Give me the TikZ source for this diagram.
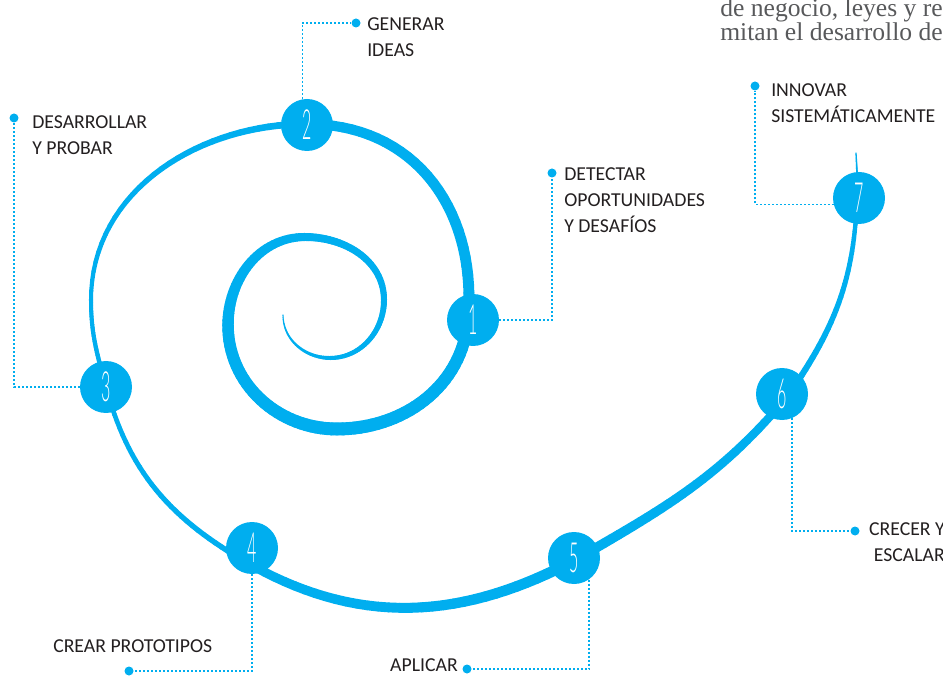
\documentclass[tikz,border=0pt]{standalone}
\usepackage{fontspec}
\usepackage{graphicx}
\setmainfont{Carlito}
\newfontfamily\notefont{Liberation Serif}
\newfontfamily\stagefont{Lato Light}
\usetikzlibrary{calc, decorations.markings}

\definecolor{spiralblue}{HTML}{00AEEF}
\definecolor{labelgray}{HTML}{231F20}
\definecolor{notegray}{HTML}{58595B}

\tikzset{
  stage/.style={circle, fill=spiralblue, minimum size=39pt, inner sep=0pt,
    text=white, font=\stagefont\fontsize{24}{24}\selectfont},
  pin/.style={circle, fill=spiralblue, minimum size=6.75pt, inner sep=0pt},
  lead/.style={spiralblue, line width=1pt, dash pattern=on 1.5pt off 1.5pt},
  tag/.style={inner sep=0pt, text=labelgray, align=left,
    font=\fontsize{14.8}{19.5}\selectfont},
}

% thin tall digits in the circles
\newcommand{\stagenum}[1]{\scalebox{0.5}[1.3]{#1}}

% one piece of the spiral, width going from #5 to #6 (px)
\newcommand{\spiralpiece}[6]{%
  \path[decorate, decoration={markings,
      mark=between positions 0 and 1 step 0.03125 with
      {\coordinate (q\pgfkeysvalueof{/pgf/decoration/mark info/sequence number});}}]
    (#1) to[out=#3, in=#4] (#2);
  \coordinate (q33) at (#2);
  \foreach \i [evaluate=\i as \j using int(\i+1),
               evaluate=\i as \w using #5+(#6-#5)*(\i-0.5)/32] in {1,...,32}
    \draw[spiralblue, line width=\w*0.75pt, line cap=round] (q\i) -- (q\j);
}

\begin{document}
\begin{tikzpicture}[x=0.75pt, y=0.75pt]
	\useasboundingbox (0,0) rectangle (943,-677);

	% text of the page behind
	\node[anchor=base west, inner sep=0pt, text=notegray, font=\notefont\fontsize{19.2}{24}\selectfont]
		(note1) at (720,-17) {de negocio, leyes y reg};
	\node[anchor=base west, inner sep=0pt, text=notegray, font=\notefont\fontsize{19.2}{24}\selectfont]
		(note2) at (720,-41) {mitan el desarrollo de};

	% points of the spiral
	\coordinate (t0) at (283,-315);
	\coordinate (t1) at (330,-358);
	\coordinate (t2) at (384,-300);
	\coordinate (t3) at (305,-237);
	\coordinate (t4) at (228,-325);
	\coordinate (t5) at (337,-429);
	\coordinate (k1) at (468,-320);
	\coordinate (k2) at (307,-124);
	\coordinate (kl) at (91,-300);
	\coordinate (k3) at (106,-387);
	\coordinate (k4) at (246,-562);
	\coordinate (k5) at (575,-560);
	\coordinate (k6) at (787,-397);
	\coordinate (k7) at (857,-198);
	\coordinate (te) at (856,-153);

	% spiral
	\spiralpiece{t0}{t1}{270}{180}{1}{4}
	\spiralpiece{t1}{t2}{0}{270}{4}{6}
	\spiralpiece{t2}{t3}{90}{0}{6}{8}
	\spiralpiece{t3}{t4}{180}{90}{8}{11.5}
	\spiralpiece{t4}{t5}{270}{180}{11.5}{13}
	\spiralpiece{t5}{k1}{0}{265}{13}{12}
	\spiralpiece{k1}{k2}{85, looseness=1.1}{0}{11}{10}
	\spiralpiece{k2}{kl}{180}{90}{7}{4}
	\spiralpiece{kl}{k3}{270}{105}{4}{4.5}
	\spiralpiece{k3}{k4}{285}{150}{4.5}{5.5}
	\spiralpiece{k4}{k5}{330}{208}{9}{11}
	\spiralpiece{k5}{k6}{30}{230}{10}{8}
	\spiralpiece{k6}{k7}{55}{268}{6.5}{4}
	\spiralpiece{k7}{te}{88}{273}{2.5}{1.2}

	% stages
	\node[stage] (c1) at (473,-320) {\stagenum{1}};
	\node[stage] (c2) at (307,-125) {\stagenum{2}};
	\node[stage] (c3) at (106,-387) {\stagenum{3}};
	\node[stage] (c4) at (252,-548) {\stagenum{4}};
	\node[stage] (c5) at (574,-558) {\stagenum{5}};
	\node[stage] (c6) at (782,-394) {\stagenum{6}};
	\node[stage] (c7) at (859,-198) {\stagenum{7}};

	% dots at the labels
	\node[pin] (d1) at (552,-173) {};
	\node[pin] (d2) at (356,-23) {};
	\node[pin] (d3) at (14,-118) {};
	\node[pin] (d4) at (129,-671) {};
	\node[pin] (d5) at (467,-669) {};
	\node[pin] (d6) at (855,-531) {};
	\node[pin] (d7) at (755,-86) {};

	% dotted leads
	\draw[lead] (c1) -| (d1);
	\draw[lead] (c2.100) |- (d2);
	\draw[lead] (c3) -| (d3);
	\draw[lead] (c4) |- (d4);
	\draw[lead] (c5.-55) |- (d5);
	\draw[lead] (c6.-68) |- (d6);
	\draw[lead] (c7.195) -| (d7);

	% labels
	\node[tag, anchor=north west] (lbl1) at (564,-167) {DETECTAR\\OPORTUNIDADES\\Y DESAFÍOS};
	\node[tag, anchor=north west] (lbl2) at (367,-17) {GENERAR\\IDEAS};
	\node[tag, anchor=north west] (lbl3) at (32,-115) {DESARROLLAR\\Y PROBAR};
	\node[tag, anchor=north west] (lbl4) at (53,-639) {CREAR PROTOTIPOS};
	\node[tag, anchor=north east] (lbl5) at (458,-658) {APLICAR};
	\node[tag, anchor=north east, align=right] (lbl6) at (945,-522) {CRECER Y\\ESCALAR};
	\node[tag, anchor=north west] (lbl7) at (771,-83) {INNOVAR\\SISTEMÁTICAMENTE};
\end{tikzpicture}
\end{document}
